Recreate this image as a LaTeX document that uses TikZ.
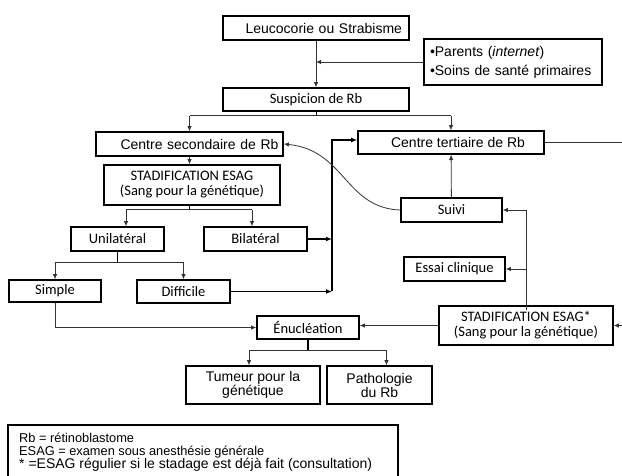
\documentclass[tikz,border=0pt]{standalone}
\usepackage{fontspec}
\setmainfont{Liberation Sans}
\newfontfamily\calibfont{Carlito}
\usetikzlibrary{arrows.meta}

\tikzset{
	box/.style={draw,line width=1.6pt,inner sep=0pt,align=center},
	ar/.style={font=\fontsize{14}{15}\selectfont},
	ca/.style={font=\calibfont\fontsize{14.5}{15}\selectfont},
	link/.style={draw=black!80,line width=0.8pt},
	conn/.style={link,-{Latex[length=5pt,width=4.5pt]}},
	bar/.style={line width=1.6pt},
	bararrow/.style={bar,-{Latex[length=6pt,width=5pt]}}
}

\newcommand{\flowbox}[4]
{
	\node[box,#1] at (#2) (#3) {#4}
}

\begin{document}
\begin{tikzpicture}[x=1pt,y=-1pt]
	\useasboundingbox (0,0) rectangle (622,476);
	
	%%% Entree
	\flowbox{ar,align=right,text width=172pt,inner xsep=7pt,minimum height=24pt}{316,28}{leuco}{Leucocorie ou Strabisme};
	\flowbox{ar,font=\fontsize{14}{19}\selectfont,align=left,text width=166pt,inner xsep=6pt,minimum height=46pt}{513,62}{parents}{\textbullet Parents (\textit{internet})\\\textbullet Soins de santé primaires};
	\flowbox{ca,minimum width=186pt,minimum height=23pt}{316,99.5}{susp}{Suspicion de Rb};
	\draw[conn] (leuco) -- (susp);
	\draw[conn] (parents.west) -- (parents.west -| leuco.south);
	
	%%% Centres
	\flowbox{ar,align=right,text width=178pt,inner xsep=4.5pt,minimum height=24pt}{189.5,144}{csec}{Centre secondaire de Rb};
	\flowbox{ar,minimum width=186pt,minimum height=23pt}{451,142.5}{cter}{\hspace*{14pt}Centre tertiaire de Rb};
	\draw[bar,line width=1pt] (susp.south) -- ++(0,4) coordinate (s0);
	\draw[link,line width=1pt] (s0 -| csec.north) -- (s0 -| cter.north);
	\draw[conn] (s0 -| csec.north) -- (csec.north);
	\draw[conn] (s0 -| cter.north) -- (cter.north);
	
	%%% Centre secondaire
	\flowbox{ca,minimum width=176pt,minimum height=40pt}{192,185}{esag}{STADIFICATION ESAG\\(Sang pour la génétique)};
	\flowbox{ca,minimum width=93pt,minimum height=24pt}{117.5,239}{uni}{Unilatéral};
	\flowbox{ca,minimum width=103pt,minimum height=24pt}{255.5,239}{bil}{Bilatéral};
	\flowbox{ca,minimum width=92pt,minimum height=22pt}{55,291}{simple}{Simple};
	\flowbox{ca,minimum width=93pt,minimum height=23pt}{183.5,291.5}{diff}{Difficile};
	\draw[conn] (csec.south) -- (csec.south |- esag.north);
	
	\coordinate (uniin) at ([xshift=8.5pt]uni.north);
	\coordinate (bilin) at ([xshift=-3.5pt]bil.north);
	\draw[bar] (esag.south -| csec.south) -- ++(0,4) coordinate (s1);
	\draw[link] (uniin |- s1) -- (bilin |- s1);
	\draw[conn] (uniin |- s1) -- (uniin);
	\draw[conn] (bilin |- s1) -- (bilin);
	
	\draw[bar] (uni.south) -- ++(0,11) coordinate (s2);
	\draw[link,line width=1pt] (s2 -| simple.north) -- (s2 -| diff.north);
	\draw[conn] (s2 -| simple.north) -- (simple.north);
	\draw[conn] (s2 -| diff.north) -- (diff.north);
	
	%%% Vers le centre tertiaire
	\coordinate (bus) at (332,140);
	\draw[bararrow] (bil.east) -- (bil.east -| bus);
	\draw[bararrow] (diff.east) -- (diff.east -| bus);
	\draw[bararrow] (diff.east -| bus) -- (bus) -- (bus -| cter.west);
	
	%%% Centre tertiaire
	\flowbox{ca,minimum width=101pt,minimum height=24pt}{451.5,210}{suivi}{Suivi};
	\flowbox{ca,minimum width=101pt,minimum height=24pt}{454.5,269}{essai}{Essai clinique};
	\flowbox{ca,minimum width=174pt,minimum height=39pt}{526,325.5}{esag2}{STADIFICATION ESAG*\\(Sang pour la génétique)};
	\draw[conn] (suivi) -- (cter);
	\draw[conn] ([yshift=-5pt]esag2.north) |- (suivi.east);
	\draw[conn] (esag2.north |- essai.east) -- (essai.east);
	\draw[conn] (suivi.west) .. controls (345,208) and (345,150) .. (csec.east);
	\draw[conn] (cter.east) -- ++(100,0) coordinate (rt) |- (esag2.east);
	
	%%% Enucleation
	\flowbox{ca,minimum width=102pt,minimum height=23pt}{308,327.5}{enuc}{Énucléation};
	\flowbox{ar,font=\fontsize{14}{14}\selectfont,minimum width=134pt,minimum height=38pt}{253,385}{tumeur}{Tumeur pour la\\génétique};
	\flowbox{ar,font=\fontsize{14}{14}\selectfont,minimum width=105pt,minimum height=38pt}{379.5,385}{patho}{Pathologie\\du Rb};
	\draw[conn] (simple.south) |- (enuc.west);
	\draw[conn] (esag2.west) -- (esag2.west -| enuc.east);
	
	\coordinate (tumin) at ([xshift=-4pt]tumeur.north);
	\coordinate (patin) at ([xshift=7pt]patho.north);
	\draw[bar] (enuc.south) -- ++(0,11) coordinate (s3);
	\draw[link,line width=1pt] (tumin |- s3) -- (patin |- s3);
	\draw[conn] (tumin |- s3) -- (tumin);
	\draw[conn] (patin |- s3) -- (patin);
	
	%%% Legende
	\draw[line width=1.6pt] (8,425) rectangle (398,492);
	\node[anchor=north west,align=left,inner sep=0pt,font=\fontsize{12.8}{13}\selectfont] (legend) at (19,433)
		{Rb = rétinoblastome\\ESAG = examen sous anesthésie générale\\\fontsize{14}{13}\selectfont * =ESAG régulier si le stadage est déjà fait (consultation)};
\end{tikzpicture}
\end{document}
